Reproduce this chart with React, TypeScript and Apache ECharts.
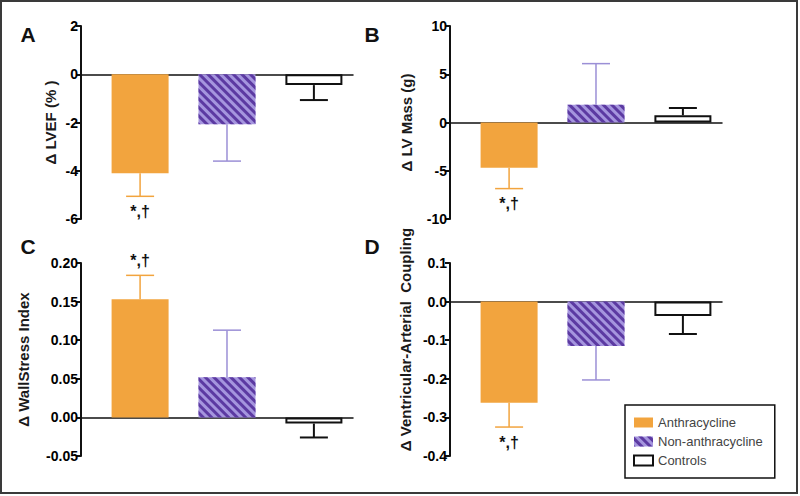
import React, { useEffect, useRef } from 'react';
import * as echarts from 'echarts';

// ---- data ----
const groups = ['Anthracycline', 'Non-anthracycline', 'Controls'];
const xPositions = [1, 2, 3];

const lvefMean = [-4.1, -2.07, -0.45];
const lvefErr = [0.96, 1.53, 0.62];

const lvMassMean = [-4.7, 1.85, 0.75];
const lvMassErr = [2.15, 4.25, 0.75];

const wallStressMean = [0.153, 0.052, -0.008];
const wallStressErr = [0.031, 0.061, 0.018];

const vacMean = [-0.262, -0.115, -0.037];
const vacErr = [0.063, 0.088, 0.047];

const significant = [true, false, false];
const sigLabel = '*,†';

const panelLetters = ['A', 'B', 'C', 'D'];
const axisNames = ['Δ LVEF (% )', 'Δ LV Mass (g)', 'Δ WallStress Index', 'Δ Ventricular-Arterial  Coupling'];
const axisMin = [-6, -10, -0.05, -0.4];
const axisMax = [2, 10, 0.2, 0.1];
const axisInterval = [2, 5, 0.05, 0.1];
const axisDecimals = [0, 0, 2, 1];

const FONT = "'Liberation Sans', Arial, sans-serif";
const ORANGE = '#f2a43e';
const PURPLE_LIGHT = '#a595de';
const PURPLE_DARK = '#5c3aa2';
const BLACK = '#111111';

const barStyles: any[] = [
  { color: ORANGE },
  {
    color: PURPLE_LIGHT,
    decal: {
      symbol: 'rect',
      symbolSize: 1,
      color: PURPLE_DARK,
      dashArrayX: [1, 0],
      dashArrayY: [3, 3],
      rotation: Math.PI / 4,
    },
  },
  { color: '#ffffff', borderColor: BLACK, borderWidth: 2 },
];
const errColors = [ORANGE, '#9b8fd6', BLACK];
const errWidths = [1.5, 1.5, 2];

const panelMeans = [lvefMean, lvMassMean, wallStressMean, vacMean];
const panelErrs = [lvefErr, lvMassErr, wallStressErr, vacErr];

// layout
const gridLeft = [81, 450, 81, 450];
const gridTop = [26, 26, 263, 263];
const nameGaps = [23, 36, 50, 37];
const namePadding = [
  [0, 0, 0, 0],
  [0, 0, 0, 0],
  [0, 0, 0, 0],
  [0, 0, 0, 40],
];
const letterPos = [
  [28, 34],
  [372, 34],
  [28, 246],
  [372, 246],
];

function buildOption() {
  const grid: any[] = [];
  const xAxis: any[] = [];
  const yAxis: any[] = [];
  const series: any[] = [];

  for (let p = 0; p < 4; p++) {
    grid.push({ left: gridLeft[p], top: gridTop[p], width: 272, height: 193, containLabel: false });
    xAxis.push({
      gridIndex: p,
      type: 'value',
      min: 0.32,
      max: 3.45,
      axisLine: { show: true, onZero: true, lineStyle: { color: BLACK, width: 1.5 } },
      axisTick: { show: false },
      axisLabel: { show: false },
      splitLine: { show: false },
    });
    const dec = axisDecimals[p];
    yAxis.push({
      gridIndex: p,
      type: 'value',
      min: axisMin[p],
      max: axisMax[p],
      interval: axisInterval[p],
      name: axisNames[p],
      nameLocation: 'middle',
      nameGap: nameGaps[p],
      nameTextStyle: {
        fontFamily: FONT,
        fontWeight: 'bold',
        fontSize: 15,
        color: '#1a1a1a',
        padding: namePadding[p],
      },
      axisLine: { show: true, onZero: false, lineStyle: { color: BLACK, width: 2 } },
      axisTick: { show: true, inside: false, length: 5, lineStyle: { color: BLACK, width: 2 } },
      axisLabel: {
        fontFamily: FONT,
        fontWeight: 'bold',
        fontSize: 14,
        color: '#000000',
        margin: 3,
        formatter: (v: number) => {
          const r = Math.round(v * 1000) / 1000;
          return r.toFixed(dec);
        },
      },
      splitLine: { show: false },
    });

    const means = panelMeans[p];
    const errs = panelErrs[p];
    for (let g = 0; g < 3; g++) {
      series.push({
        type: 'bar',
        name: groups[g],
        xAxisIndex: p,
        yAxisIndex: p,
        barWidth: 57,
        barGap: '-100%',
        silent: true,
        itemStyle: barStyles[g],
        data: [[xPositions[g], means[g]]],
      });
    }
    series.push({
      type: 'custom',
      name: 'err' + p,
      xAxisIndex: p,
      yAxisIndex: p,
      silent: true,
      z: 3,
      data: xPositions.map((x, i) => [
        x,
        means[i],
        means[i] + (means[i] >= 0 ? 1 : -1) * errs[i],
        significant[i] ? 1 : 0,
      ]),
      renderItem: (params: any, api: any) => {
        const i = params.dataIndex;
        const base = api.coord([api.value(0), api.value(1)]);
        const end = api.coord([api.value(0), api.value(2)]);
        const st = { stroke: errColors[i], lineWidth: errWidths[i] };
        const children: any[] = [
          { type: 'line', shape: { x1: base[0], y1: base[1], x2: end[0], y2: end[1] }, style: st },
          { type: 'line', shape: { x1: end[0] - 14, y1: end[1], x2: end[0] + 14, y2: end[1] }, style: st },
        ];
        if (api.value(3)) {
          const dir = end[1] > base[1] ? 1 : -1;
          children.push({
            type: 'text',
            x: end[0],
            y: end[1] + dir * 15,
            style: {
              text: sigLabel,
              fontFamily: FONT,
              fontSize: 16,
              fontWeight: 'bold',
              fill: BLACK,
              align: 'center',
              verticalAlign: 'middle',
            },
          });
        }
        return { type: 'group', children };
      },
    });
  }

  const graphic: any[] = [
    {
      type: 'rect',
      shape: { x: 1, y: 1, width: 796, height: 492 },
      style: { fill: 'none', stroke: '#3a3a3a', lineWidth: 2 },
      silent: true,
    },
  ];
  for (let p = 0; p < 4; p++) {
    graphic.push({
      type: 'text',
      x: letterPos[p][0],
      y: letterPos[p][1],
      style: {
        text: panelLetters[p],
        fontFamily: FONT,
        fontSize: 21,
        fontWeight: 'bold',
        fill: BLACK,
        align: 'center',
        verticalAlign: 'middle',
      },
    });
  }

  return {
    animation: false,
    backgroundColor: '#ffffff',
    grid,
    xAxis,
    yAxis,
    series,
    graphic,
    legend: {
      data: groups,
      orient: 'vertical',
      left: 625,
      top: 405,
      icon: 'rect',
      itemWidth: 19,
      itemHeight: 10,
      itemGap: 6,
      selectedMode: false,
      padding: [11, 12, 11, 8],
      borderColor: BLACK,
      borderWidth: 1.5,
      backgroundColor: '#ffffff',
      textStyle: { fontFamily: FONT, fontSize: 13, color: '#444444' },
    },
  };
}

export default function App() {
  const ref = useRef<HTMLDivElement>(null);
  useEffect(() => {
    document.body.style.margin = '0';
    if (!ref.current) return;
    const chart = echarts.init(ref.current, undefined, { renderer: 'svg' });
    chart.setOption(buildOption() as any);
    return () => chart.dispose();
  }, []);
  return <div ref={ref} style={{ width: 800, height: 496, position: 'absolute', left: 0, top: 0 }} />;
}
